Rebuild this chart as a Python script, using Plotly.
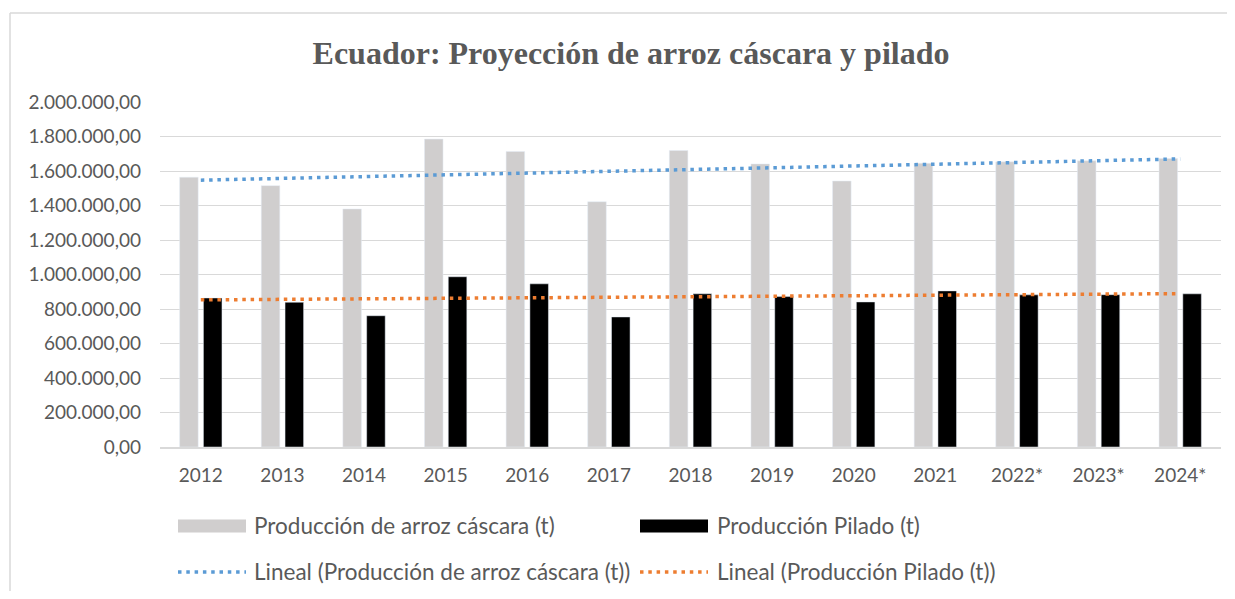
import plotly.graph_objects as go

# ---- data ----
years = ["2012", "2013", "2014", "2015", "2016", "2017", "2018", "2019",
         "2020", "2021", "2022*", "2023*", "2024*"]
cascara = [1564000, 1515000, 1380000, 1785000, 1713000, 1422000, 1719000,
           1641000, 1542000, 1645000, 1653000, 1659000, 1672000]
pilado = [864000, 839000, 761000, 987000, 946000, 754000, 888000,
          872000, 841000, 905000, 882000, 883000, 888000]
# trend line end values (first and last category)
trend_cascara = [1547000, 1670000]
trend_pilado = [853000, 889000]

name_c = "Producción de arroz cáscara (t)"
name_p = "Producción Pilado (t)"
name_tc = "Lineal (Producción de arroz cáscara (t))"
name_tp = "Lineal (Producción Pilado (t))"

GRAY = "#D0CECE"
BLACK = "#000000"
BLUE = "#5B9BD5"
ORANGE = "#ED7D31"
TXT = "#595959"
GRID = "#D9D9D9"
FONT = "Lato"
DOT = "3.5px,4.8px"

# page body has an 8px margin, so the figure is placed at (8, 8);
# keep the figure inside the 1235x599 window to avoid scrollbars
O = 8
W, H = 1235 - 2 * O, 599 - 2 * O
# plot area in page pixels
PL, PR, PT, PB = 160, 1221, 102, 447
ML, MR, MT, MB = PL - O, (O + W) - PR, PT - O, (O + H) - PB
PW = W - ML - MR
PH = H - MT - MB


def px(x):
    return (x - PL) / PW


def py(y):
    return (PB - y) / PH


fig = go.Figure()
fig.add_trace(go.Bar(x=years, y=cascara, name=name_c, marker_color=GRAY,
                     showlegend=False))
fig.add_trace(go.Bar(x=years, y=pilado, name=name_p, marker_color=BLACK,
                     showlegend=False))
fig.add_trace(go.Scatter(x=[years[0], years[-1]], y=trend_cascara, mode="lines",
                         name=name_tc, line=dict(color=BLUE, width=3.5, dash=DOT),
                         showlegend=False))
fig.add_trace(go.Scatter(x=[years[0], years[-1]], y=trend_pilado, mode="lines",
                         name=name_tp, line=dict(color=ORANGE, width=3.5, dash=DOT),
                         showlegend=False))

shapes = [
    # outer chart border (top and left edges visible in the window)
    dict(type="line", xref="paper", yref="paper", x0=px(10), x1=px(O + W),
         y0=py(13), y1=py(13), line=dict(color=GRID, width=1.5)),
    dict(type="line", xref="paper", yref="paper", x0=px(10), x1=px(10),
         y0=py(13), y1=py(O + H), line=dict(color=GRID, width=1.5)),
    # legend swatches
    dict(type="rect", xref="paper", yref="paper", x0=px(178), x1=px(246),
         y0=py(532.5), y1=py(519.5), fillcolor=GRAY, line=dict(width=0)),
    dict(type="rect", xref="paper", yref="paper", x0=px(640), x1=px(708),
         y0=py(532.5), y1=py(519.5), fillcolor=BLACK, line=dict(width=0)),
    dict(type="line", xref="paper", yref="paper", x0=px(178), x1=px(246),
         y0=py(572), y1=py(572), line=dict(color=BLUE, width=3.5, dash=DOT)),
    dict(type="line", xref="paper", yref="paper", x0=px(640), x1=px(708),
         y0=py(572), y1=py(572), line=dict(color=ORANGE, width=3.5, dash=DOT)),
]

annotations = []
for txt, x, y in [(name_c, 252, 525), (name_p, 715, 525),
                  (name_tc, 252, 571), (name_tp, 715, 571)]:
    annotations.append(dict(text=txt, xref="paper", yref="paper", x=px(x), y=py(y),
                            xanchor="left", yanchor="middle", showarrow=False,
                            font=dict(family=FONT, size=22.5, color=TXT)))

fig.update_layout(
    width=W, height=H,
    margin=dict(l=ML, r=MR, t=MT, b=MB, pad=0),
    paper_bgcolor="white", plot_bgcolor="white",
    separators=",.",
    barmode="group", bargap=0.417, bargroupgap=0.22,
    title=dict(text="<b>Ecuador: Proyección de arroz cáscara y pilado</b>",
               x=(631 - O) / W, xanchor="center", xref="container",
               y=1 - (53 - O) / H, yanchor="middle", yref="container",
               font=dict(family="Liberation Serif", size=32, color=TXT)),
    xaxis=dict(type="category", showgrid=False, showline=True, linecolor=GRID,
               linewidth=1.5, ticks="", ticklabelstandoff=10,
               tickfont=dict(family=FONT, size=19, color=TXT)),
    yaxis=dict(range=[0, 2000000], dtick=200000, tickformat=",.2f",
               showgrid=True, gridcolor=GRID, gridwidth=1.2, zeroline=False,
               showline=False, ticks="", ticklabelstandoff=18,
               tickfont=dict(family=FONT, size=19, color=TXT)),
    shapes=shapes,
    annotations=annotations,
)

fig.write_html("out.html", config={"displayModeBar": False})
